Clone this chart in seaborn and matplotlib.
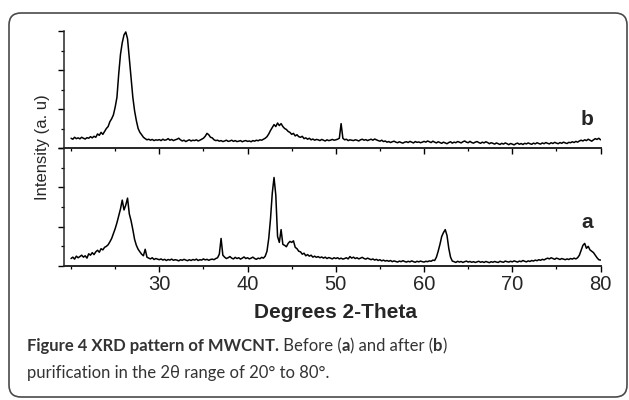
"""
XRD pattern of MWCNT before (a) and after (b) purification.
Two stacked panels sharing the 2-theta axis, framed figure with caption.
"""

import numpy as np
import matplotlib
matplotlib.use("Agg")
import matplotlib.pyplot as plt
from matplotlib.patches import FancyBboxPatch
from matplotlib.ticker import MultipleLocator
from matplotlib.transforms import IdentityTransform
import seaborn as sns

# scan angles, 0.2 degree step
two_theta = np.round(np.linspace(20.0, 80.0, 301), 1)

# after purification (b), arbitrary units
after_b = [
    0.50, 0.45, 0.55, 0.48, 0.52, 0.47, 0.55, 0.50, 0.46, 0.53,  # 20
    0.50, 0.58, 0.52, 0.60, 0.55, 0.72, 0.65, 0.80, 0.70, 0.85,  # 22
    1.00, 1.10, 1.35, 1.50, 1.70, 2.10, 2.60, 3.80, 4.80, 5.40,  # 24
    5.80, 5.95, 5.60, 4.60, 3.60, 2.60, 1.90, 1.40, 1.00, 0.80,  # 26
    0.68, 0.55, 0.48, 0.42, 0.45, 0.40, 0.44, 0.38, 0.42, 0.40,  # 28
    0.43, 0.38, 0.45, 0.40, 0.42, 0.48, 0.40, 0.44, 0.38, 0.42,  # 30
    0.45, 0.50, 0.42, 0.36, 0.40, 0.33, 0.38, 0.42, 0.36, 0.40,  # 32
    0.38, 0.42, 0.36, 0.40, 0.45, 0.50, 0.60, 0.75, 0.68, 0.55,  # 34
    0.52, 0.42, 0.38, 0.40, 0.35, 0.38, 0.33, 0.36, 0.40, 0.34,  # 36
    0.36, 0.40, 0.34, 0.38, 0.33, 0.35, 0.38, 0.32, 0.36, 0.38,  # 38
    0.34, 0.36, 0.32, 0.38, 0.35, 0.40, 0.37, 0.42, 0.40, 0.45,  # 40
    0.50, 0.58, 0.72, 0.90, 1.05, 1.20, 1.10, 1.28, 1.15, 1.25,  # 42
    1.10, 1.00, 0.95, 0.85, 0.80, 0.70, 0.75, 0.62, 0.68, 0.58,  # 44
    0.55, 0.60, 0.48, 0.52, 0.45, 0.50, 0.42, 0.46, 0.40, 0.44,  # 46
    0.42, 0.38, 0.44, 0.40, 0.36, 0.42, 0.38, 0.40, 0.44, 0.40,  # 48
    0.42, 0.45, 0.50, 1.25, 0.50, 0.42, 0.45, 0.38, 0.42, 0.40,  # 50
    0.38, 0.42, 0.40, 0.36, 0.42, 0.45, 0.40, 0.43, 0.38, 0.42,  # 52
    0.45, 0.40, 0.46, 0.42, 0.38, 0.35, 0.40, 0.33, 0.36, 0.30,  # 54
    0.33, 0.28, 0.32, 0.35, 0.30, 0.27, 0.32, 0.28, 0.25, 0.30,  # 56
    0.32, 0.28, 0.34, 0.30, 0.26, 0.33, 0.29, 0.31, 0.27, 0.30,  # 58
    0.34, 0.30, 0.36, 0.32, 0.28, 0.35, 0.30, 0.26, 0.32, 0.28,  # 60
    0.24, 0.30, 0.26, 0.22, 0.28, 0.32, 0.25, 0.30, 0.27, 0.33,  # 62
    0.30, 0.26, 0.32, 0.36, 0.30, 0.27, 0.34, 0.28, 0.25, 0.30,  # 64
    0.33, 0.28, 0.24, 0.30, 0.26, 0.32, 0.28, 0.22, 0.27, 0.24,  # 66
    0.20, 0.26, 0.22, 0.18, 0.24, 0.20, 0.26, 0.22, 0.17, 0.23,  # 68
    0.20, 0.16, 0.22, 0.25, 0.19, 0.23, 0.18, 0.24, 0.21, 0.26,  # 70
    0.22, 0.19, 0.25, 0.21, 0.27, 0.23, 0.20, 0.26, 0.22, 0.28,  # 72
    0.24, 0.21, 0.27, 0.23, 0.29, 0.25, 0.22, 0.28, 0.24, 0.30,  # 74
    0.26, 0.23, 0.29, 0.27, 0.32, 0.28, 0.34, 0.30, 0.36, 0.40,  # 76
    0.36, 0.42, 0.38, 0.45, 0.40, 0.35, 0.42, 0.48, 0.44, 0.50,  # 78
    0.42,                                                        # 80
]

# before purification (a), arbitrary units
before_a = [
    0.38, 0.45, 0.35, 0.50, 0.42, 0.48, 0.55, 0.45, 0.52, 0.40,  # 20
    0.62, 0.55, 0.68, 0.58, 0.72, 0.80, 0.70, 0.88, 0.82, 0.95,  # 22
    1.00, 1.08, 1.23, 1.40, 1.65, 1.90, 2.20, 2.55, 2.90, 3.35,  # 24
    2.85, 3.10, 3.45, 2.65, 2.30, 1.85, 1.35, 1.05, 0.85, 0.72,  # 26
    0.60, 0.52, 0.85, 0.45, 0.40, 0.36, 0.42, 0.33, 0.38, 0.35,  # 28
    0.32, 0.36, 0.30, 0.34, 0.28, 0.33, 0.30, 0.35, 0.29, 0.32,  # 30
    0.30, 0.26, 0.32, 0.29, 0.34, 0.30, 0.27, 0.32, 0.28, 0.33,  # 32
    0.30, 0.35, 0.28, 0.32, 0.30, 0.36, 0.31, 0.34, 0.29, 0.33,  # 34
    0.35, 0.32, 0.38, 0.42, 0.60, 1.40, 0.55, 0.45, 0.38, 0.42,  # 36
    0.48, 0.40, 0.36, 0.44, 0.38, 0.42, 0.35, 0.40, 0.46, 0.38,  # 38
    0.42, 0.36, 0.40, 0.45, 0.38, 0.34, 0.40, 0.37, 0.44, 0.40,  # 40
    0.50, 0.75, 1.40, 2.40, 3.70, 4.50, 3.60, 1.50, 1.20, 1.85,  # 42
    1.10, 1.05, 0.98, 1.15, 1.25, 1.20, 1.28, 0.95, 0.88, 0.75,  # 44
    0.72, 0.60, 0.65, 0.52, 0.58, 0.50, 0.55, 0.45, 0.50, 0.44,  # 46
    0.48, 0.42, 0.46, 0.40, 0.45, 0.38, 0.43, 0.40, 0.36, 0.42,  # 48
    0.38, 0.42, 0.36, 0.40, 0.35, 0.38, 0.42, 0.36, 0.48, 0.40,  # 50
    0.45, 0.38, 0.42, 0.36, 0.40, 0.44, 0.38, 0.35, 0.40, 0.36,  # 52
    0.32, 0.36, 0.30, 0.34, 0.28, 0.32, 0.26, 0.30, 0.25, 0.28,  # 54
    0.24, 0.28, 0.22, 0.26, 0.23, 0.20, 0.25, 0.22, 0.27, 0.23,  # 56
    0.20, 0.24, 0.21, 0.26, 0.22, 0.19, 0.24, 0.21, 0.25, 0.22,  # 58
    0.20, 0.24, 0.22, 0.26, 0.24, 0.30, 0.28, 0.45, 0.75, 1.10,  # 60
    1.50, 1.70, 1.85, 1.55, 0.90, 0.45, 0.25, 0.22, 0.18, 0.24,  # 62
    0.20, 0.23, 0.18, 0.22, 0.25, 0.20, 0.23, 0.19, 0.22, 0.18,  # 64
    0.21, 0.24, 0.19, 0.22, 0.18, 0.23, 0.20, 0.17, 0.22, 0.19,  # 66
    0.23, 0.20, 0.18, 0.24, 0.21, 0.19, 0.25, 0.22, 0.20, 0.24,  # 68
    0.21, 0.26, 0.23, 0.20, 0.25, 0.22, 0.28, 0.24, 0.21, 0.26,  # 70
    0.23, 0.28, 0.25, 0.30, 0.27, 0.32, 0.29, 0.34, 0.31, 0.36,  # 72
    0.40, 0.36, 0.42, 0.38, 0.34, 0.40, 0.37, 0.33, 0.38, 0.35,  # 74
    0.32, 0.36, 0.33, 0.38, 0.35, 0.40, 0.36, 0.42, 0.55, 0.80,  # 76
    1.05, 1.15, 0.90, 1.00, 0.82, 0.75, 0.68, 0.55, 0.42, 0.32,  # 78
    0.30,                                                        # 80
]

x_ticks = [30, 40, 50, 60, 70, 80]
panel_labels = ["b", "a"]
x_label = "Degrees 2-Theta"
y_label = "Intensity (a. u)"
caption_line1 = [
    ("Figure 4 XRD pattern of MWCNT.", "bold"),
    (" Before (", "normal"),
    ("a", "bold"),
    (") and after (", "normal"),
    ("b", "bold"),
    (")", "normal"),
]
caption_line2 = "purification in the 2\u03b8 range of 20\u00b0 to 80\u00b0."

W, H = 629, 400
sns.set_style("ticks")
plt.rcParams["font.family"] = ["Liberation Sans", "DejaVu Sans"]
caption_font = ["Lato", "DejaVu Sans"]
caption_color = "#333333"


def fx(px):
    return px / W


def fy(py):
    return 1 - py / H


fig = plt.figure(figsize=(W / 100, H / 100), dpi=100)

# rounded frame around the whole figure (pixel coordinates)
frame = FancyBboxPatch(
    (9, H - 397), 618, 384,
    boxstyle="round,pad=0,rounding_size=12",
    transform=IdentityTransform(), facecolor="none",
    edgecolor="#4a4a4a", linewidth=1.2, zorder=0,
)
fig.patches.append(frame)

left, right = 64, 601
ax_b = fig.add_axes([fx(left), fy(148), fx(right - left), (148 - 31) / H])
ax_a = fig.add_axes([fx(left), fy(266), fx(right - left), (266 - 148) / H],
                    sharex=ax_b)

sns.lineplot(x=two_theta, y=after_b, ax=ax_b, color="black", linewidth=1.1)
sns.lineplot(x=two_theta, y=before_a, ax=ax_a, color="black", linewidth=1.1)

for ax in (ax_b, ax_a):
    ax.set_facecolor("none")
    ax.set_xlim(19.2, 80.05)
    ax.set_ylim(0, 6)
    ax.spines["top"].set_visible(False)
    ax.spines["right"].set_visible(False)
    ax.spines["left"].set_linewidth(1.1)
    ax.spines["bottom"].set_linewidth(1.4)
    ax.set_xticks(x_ticks)
    ax.xaxis.set_minor_locator(MultipleLocator(5))
    ax.yaxis.set_major_locator(MultipleLocator(2))
    ax.yaxis.set_minor_locator(MultipleLocator(1))
    ax.set_yticklabels([])
    ax.tick_params(which="major", direction="out", length=4, width=1.0,
                   color="black")
    ax.tick_params(which="minor", direction="out", length=2.5, width=0.9,
                   color="black")
    ax.set_xlabel("")
    ax.set_ylabel("")

ax_b.tick_params(axis="x", labelbottom=False)
ax_a.tick_params(axis="x", labelsize=14.5, pad=2.5)

# panel letters
fig.text(fx(593), fy(125), panel_labels[0], ha="right", va="baseline",
         fontsize=15, fontweight="bold")
fig.text(fx(593), fy(228), panel_labels[1], ha="right", va="baseline",
         fontsize=15, fontweight="bold")

fig.text(fx(335), fy(312), x_label, ha="center", va="center",
         fontsize=15, fontweight="bold")
fig.text(fx(43), fy(147), y_label, ha="center", va="center",
         rotation=90, fontsize=12)

# caption with mixed weights
renderer = fig.canvas.get_renderer()
x_px = 27
for text, weight in caption_line1:
    t = fig.text(fx(x_px), fy(351), text, ha="left", va="baseline",
                 fontsize=12, fontweight=weight, family=caption_font,
                 color=caption_color)
    x_px = t.get_window_extent(renderer).x1
fig.text(fx(27), fy(378), caption_line2, ha="left", va="baseline",
         fontsize=12, family=caption_font, color=caption_color)

fig.savefig("out.png", dpi=100)
plt.close(fig)
